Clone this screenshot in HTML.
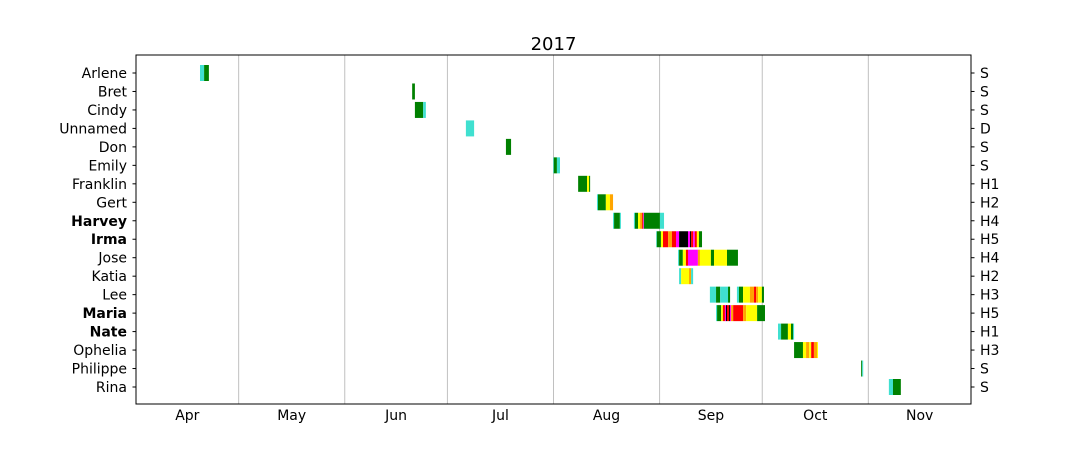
<!DOCTYPE html>
<html><head><meta charset="utf-8">
<style>
body{margin:0;background:#fff;}
svg text{font-family:"DejaVu Sans","Liberation Sans",sans-serif;}
</style></head>
<body>
<svg id="chart" width="1080" height="462" viewBox="0 0 1080 462" xmlns="http://www.w3.org/2000/svg">
<rect width="1080" height="462" fill="#fff"/>
<g id="grid"></g>
<g id="bars"></g>
<g id="labels"></g>
<rect x="136" y="55" width="835" height="349" fill="none" stroke="#000" stroke-width="1"/>
<text x="553.5" y="50" font-size="18" text-anchor="middle">2017</text>
</svg>
<script>
const storms = ["Arlene","Bret","Cindy","Unnamed","Don","Emily","Franklin","Gert","Harvey","Irma","Jose","Katia","Lee","Maria","Nate","Ophelia","Philippe","Rina"];
const categories = ["S","S","S","D","S","S","H1","H2","H4","H5","H4","H2","H3","H5","H1","H3","S","S"];
const boldStorms = ["Harvey","Irma","Maria","Nate"];
const months = ["Apr","May","Jun","Jul","Aug","Sep","Oct","Nov"];
const monthStartDays = [0,30,61,91,122,153,183,214,244];
// segments: [startDay, endDay, stage] — days since Apr 1
const segArlene = [[18.7,19.9,"D"],[19.9,21.3,"S"]];
const segBret = [[80.7,81.5,"S"]];
const segCindy = [[81.5,83.9,"S"],[83.9,84.7,"D"]];
const segUnnamed = [[96.4,98.8,"D"]];
const segDon = [[108.1,109.6,"S"]];
const segEmily = [[121.9,122.1,"D"],[122.1,123.0,"S"],[123.0,123.9,"D"]];
const segFranklin = [[129.2,131.8,"S"],[131.8,132.4,"1"],[132.4,132.7,"S"]];
const segGert = [[134.7,135.0,"D"],[135.0,137.3,"S"],[137.3,138.5,"1"],[138.5,139.4,"2"]];
const segHarvey = [[139.4,139.7,"D"],[139.7,141.4,"S"],[141.4,141.7,"D"],[145.5,145.8,"D"],[145.8,146.7,"S"],[146.7,147.3,"1"],[147.3,147.9,"2"],[147.9,148.2,"3"],[148.2,148.4,"4"],[148.4,153.1,"S"],[153.1,154.3,"D"]];
const segIrma = [[152.0,152.2,"D"],[152.2,153.4,"S"],[153.4,154.0,"1"],[154.0,155.5,"3"],[155.5,156.6,"2"],[156.6,157.8,"3"],[157.8,158.7,"4"],[158.7,161.3,"5"],[161.3,161.9,"4"],[161.9,162.2,"5"],[162.2,162.8,"3"],[162.8,163.3,"4"],[163.3,163.9,"3"],[163.9,164.5,"1"],[164.5,165.4,"S"]];
const segJose = [[158.4,158.7,"D"],[158.7,159.8,"S"],[159.8,160.7,"1"],[160.7,161.3,"3"],[161.3,164.2,"4"],[164.2,164.8,"2"],[164.8,168.0,"1"],[168.0,168.9,"S"],[168.9,172.7,"1"],[172.7,175.9,"S"]];
const segKatia = [[158.7,159.3,"D"],[159.3,161.6,"1"],[161.6,162.2,"2"],[162.2,162.8,"D"]];
const segLee = [[167.7,169.5,"D"],[169.5,170.7,"S"],[170.7,173.0,"D"],[173.0,173.6,"S"],[175.6,176.2,"D"],[176.2,177.4,"S"],[177.4,179.4,"1"],[179.4,180.6,"2"],[180.6,181.2,"3"],[181.2,181.8,"2"],[181.8,182.9,"1"],[182.9,183.5,"S"]];
const segMaria = [[169.5,169.8,"D"],[169.8,171.0,"S"],[171.0,171.5,"1"],[171.5,172.1,"3"],[172.1,172.4,"4"],[172.4,172.7,"5"],[172.7,173.3,"3"],[173.3,173.6,"5"],[173.6,173.9,"4"],[173.9,174.5,"2"],[174.5,177.4,"3"],[177.4,178.3,"2"],[178.3,181.5,"1"],[181.5,183.8,"S"]];
const segNate = [[187.6,188.5,"D"],[188.5,190.5,"S"],[190.5,191.4,"1"],[191.4,192.0,"S"],[192.0,192.3,"D"]];
const segOphelia = [[192.3,194.9,"S"],[194.9,195.8,"1"],[195.8,196.7,"2"],[196.7,197.3,"1"],[197.3,198.1,"3"],[198.1,199.0,"2"],[199.0,199.3,"1"]];
const segPhilippe = [[211.9,212.2,"S"],[212.2,212.5,"D"]];
const segRina = [[220.0,221.2,"D"],[221.2,223.5,"S"]];
const allSegments = [segArlene,segBret,segCindy,segUnnamed,segDon,segEmily,segFranklin,segGert,segHarvey,segIrma,segJose,segKatia,segLee,segMaria,segNate,segOphelia,segPhilippe,segRina];
const stageColors = {D:"#40e0d0",S:"#008000","1":"#ffff00","2":"#ffa500","3":"#ff0000","4":"#ff00ff","5":"#000000"};

const NS="http://www.w3.org/2000/svg";
const X0=136,X1=971,Y0=55,Y1=404,TOTAL=244;
function xScale(d){return X0+d*(X1-X0)/TOTAL;}
const rowTop=73, rowStep=(387-73)/17, barH=16;
function yScale(i){return rowTop+i*rowStep;}
function mk(tag,attrs,parent){const e=document.createElementNS(NS,tag);for(const k in attrs)e.setAttribute(k,attrs[k]);parent.appendChild(e);return e;}

const grid=document.getElementById('grid');
for(let m=1;m<months.length;m++){
  const x=xScale(monthStartDays[m]);
  const l=mk('line',{x1:x,x2:x,y1:Y0,y2:Y1,stroke:'#c0c0c0','stroke-width':1},grid);
  
  
}
const labels=document.getElementById('labels');
months.forEach((m,i)=>{
  const x=xScale((monthStartDays[i]+monthStartDays[i+1])/2);
  const t=mk('text',{x:x,y:420,'font-size':14,'text-anchor':'middle'},labels);
  t.textContent=m;
  
  
});
const bars=document.getElementById('bars');
storms.forEach((s,i)=>{
  const y=yScale(i);
  const t=mk('text',{x:127,y:y+5,'font-size':14,'text-anchor':'end','font-weight':boldStorms.includes(s)?'bold':'normal'},labels);
  t.textContent=s;
  
  
  const tk=mk('line',{x1:132.5,x2:136,y1:y,y2:y,stroke:'#000'},labels);
  
  
  const tk2=mk('line',{x1:971,x2:974.5,y1:y,y2:y,stroke:'#000'},labels);
  
  
  const c=mk('text',{x:980,y:y+5,'font-size':14,'text-anchor':'start'},labels);
  c.textContent=categories[i];
  
  
  allSegments[i].forEach(seg=>{
    const x1=xScale(seg[0]),x2=xScale(seg[1]);
    const r=mk('rect',{x:x1,y:y-barH/2,width:Math.max(x2-x1,0.5),height:barH,fill:stageColors[seg[2]]},bars);
    
    
  });
});
</script>
</body></html>
